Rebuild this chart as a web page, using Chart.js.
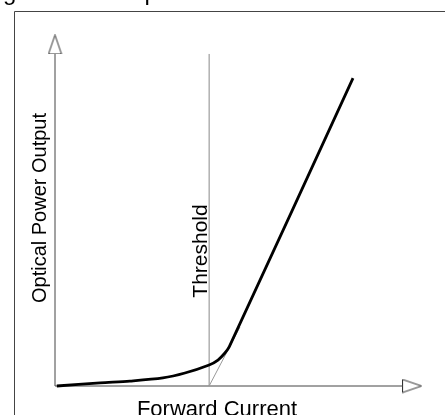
<!DOCTYPE html>
<html>
<head>
<meta charset="utf-8">
<script src="https://cdn.jsdelivr.net/npm/chart.js@4"></script>
<style>
  html, body { margin: 0; padding: 0; background: #fff; }
  #wrap { position: relative; width: 445px; height: 415px; overflow: hidden; }
</style>
</head>
<body>
<div id="wrap"><canvas id="chart" width="445" height="415"></canvas></div>
<script>
// ── Data (x and y on a 0–100 scale) ───────────────────────────────────────
const curveX     = [0.5, 12.3, 20.4, 29.4, 35.4, 42.0, 44.4, 46.3, 47.5, 81.2];
const curveY     = [0.0, 0.9, 1.4, 2.3, 3.7, 6.0, 7.4, 9.4, 11.2, 87.7];
const tangentX   = [42.0, 50.4];
const tangentY   = [0.0, 16.8];
const thresholdX = [42.0, 42.0];
const thresholdY = [0.0, 94.6];
const axisXLine  = [0.0, 94.8];   // x axis runs along y = 0
const axisYLine  = [0.0, 94.6];   // y axis runs along x = 0
const arrowAt    = 97.3;          // centre of both arrow heads

const titleText     = 'Figure 1-1: Output';
const xLabel        = 'Forward Current';
const yLabel        = 'Optical Power Output';
const thresholdText = 'Threshold';

const pts = (xs, ys) => xs.map((x, i) => ({ x, y: ys[i] }));

// hollow arrow head used as a point style
function arrowHead() {
  const c = document.createElement('canvas');
  c.width = 15; c.height = 20;
  const g = c.getContext('2d');
  g.beginPath();
  g.moveTo(7.5, 0.5); g.lineTo(14, 19.5); g.lineTo(1, 19.5); g.closePath();
  g.fillStyle = '#fff'; g.fill();
  g.strokeStyle = '#333'; g.lineWidth = 1; g.stroke();
  return c;
}
const head = arrowHead();

// ── Frame + text labels ───────────────────────────────────────────────────
const decor = {
  id: 'decor',
  beforeDraw(chart) {
    const ctx = chart.ctx;
    ctx.save();
    ctx.strokeStyle = '#444';
    ctx.lineWidth = 1;
    ctx.beginPath();
    ctx.moveTo(14.5, 420); ctx.lineTo(14.5, 11.5); ctx.lineTo(450, 11.5);
    ctx.stroke();
    ctx.restore();
  },
  afterDraw(chart) {
    const ctx = chart.ctx;
    ctx.save();
    ctx.fillStyle = '#000';
    ctx.textBaseline = 'alphabetic';

    ctx.font = '24px "Liberation Sans", Arial, sans-serif';
    ctx.textAlign = 'left';
    ctx.fillText(titleText, -17, 0);

    ctx.font = '22px "Liberation Sans", Arial, sans-serif';
    ctx.textAlign = 'center';
    ctx.fillText(xLabel, 217, 416);

    ctx.save();
    ctx.translate(46, 208);
    ctx.rotate(-Math.PI / 2);
    ctx.font = '20px "Liberation Sans", Arial, sans-serif';
    ctx.fillText(yLabel, 0, 0);
    ctx.restore();

    ctx.save();
    ctx.translate(207, 251);
    ctx.rotate(-Math.PI / 2);
    ctx.font = '21px "Liberation Sans", Arial, sans-serif';
    ctx.fillText(thresholdText, 0, 0);
    ctx.restore();

    ctx.restore();
  }
};

new Chart(document.getElementById('chart'), {
  type: 'scatter',
  data: {
    datasets: [
      { // laser curve
        data: pts(curveX, curveY),
        showLine: true, borderColor: '#000', borderWidth: 2.8,
        tension: 0.3, pointRadius: 0, clip: false
      },
      { // tangent extrapolation to threshold
        data: pts(tangentX, tangentY),
        showLine: true, borderColor: '#999', borderWidth: 1, pointRadius: 0, clip: false
      },
      { // threshold marker
        data: pts(thresholdX, thresholdY),
        showLine: true, borderColor: '#888', borderWidth: 1, pointRadius: 0, clip: false
      },
      { // x axis line
        data: pts(axisXLine, [0, 0]),
        showLine: true, borderColor: '#444', borderWidth: 1, pointRadius: 0, clip: false
      },
      { // y axis line
        data: pts([0, 0], axisYLine),
        showLine: true, borderColor: '#444', borderWidth: 1, pointRadius: 0, clip: false
      },
      { // x arrow head
        data: [{ x: arrowAt, y: 0 }],
        pointStyle: head, rotation: 90, pointRadius: 10, clip: false
      },
      { // y arrow head
        data: [{ x: 0, y: arrowAt }],
        pointStyle: head, rotation: 0, pointRadius: 10, clip: false
      }
    ]
  },
  options: {
    responsive: false,
    animation: false,
    events: [],
    layout: { padding: { left: 55, right: 23, top: 35, bottom: 29 } },
    plugins: { legend: { display: false }, tooltip: { enabled: false } },
    scales: {
      x: { type: 'linear', min: 0, max: 100, display: false },
      y: { type: 'linear', min: 0, max: 100, display: false }
    }
  },
  plugins: [decor]
});
</script>
</body>
</html>
